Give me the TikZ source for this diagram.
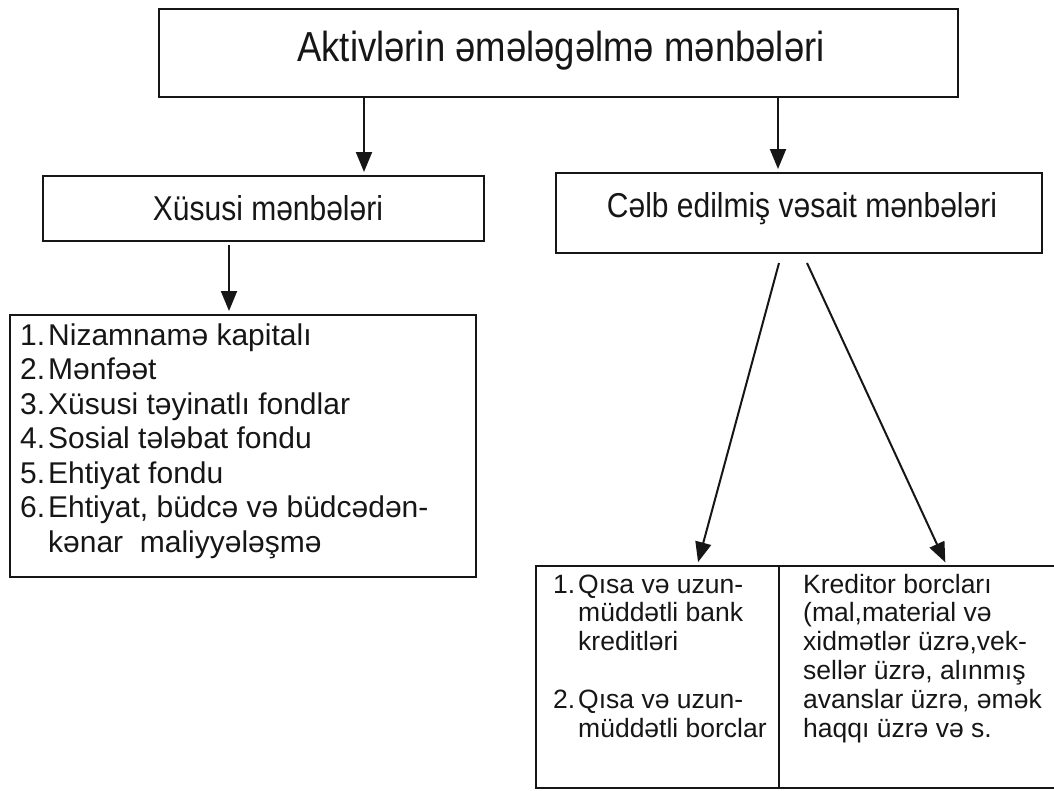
\documentclass[tikz,border=0pt]{standalone}
\usepackage{fontspec}
\setmainfont{Liberation Sans}
\usetikzlibrary{arrows.meta,calc}
\definecolor{ink}{HTML}{161616}
\newcommand{\nb}[2]{\makebox[#1][l]{#2}}
\newcommand{\tall}[1]{\scalebox{1}[1.15]{#1}}
\begin{document}
\begin{tikzpicture}[x=1pt,y=-1pt,
  box/.style={draw=ink,line width=2.4pt,inner sep=0pt,outer sep=0pt},
  arr/.style={draw=ink,line width=2pt,shorten >=4pt,-{Triangle[length=20pt,width=16pt]}},
  txt/.style={inner sep=0pt,anchor=base west,text=ink},
  head/.style={inner sep=0pt,anchor=base,text=ink,font=\fontsize{30}{34}\selectfont}]
\useasboundingbox (0,0) rectangle (1054,790);
\clip (0,0) rectangle (1054,790);
% boxes
\node[box,minimum width=799pt,minimum height=88pt] (top) at (558.5,53) {};
\node[box,minimum width=441pt,minimum height=65pt] (xus) at (263.5,208.5) {};
\node[box,minimum width=486pt,minimum height=80pt] (celb) at (799,213) {};
\node[box,minimum width=466pt,minimum height=262pt] (list) at (243,446) {};
\node[box,minimum width=243pt,minimum height=222pt] (bl) at (657.5,677) {};
\node[box,minimum width=285pt,minimum height=222pt] (br) at (921.5,677) {};
% titles
\node[inner sep=0pt,anchor=base,text=ink,font=\fontsize{36.5}{40}\selectfont] (toptxt) at (561,61) {\tall{Aktivlərin əmələgəlmə mənbələri}};
\node[head] (xustxt) at (268,220) {\tall{Xüsusi mənbələri}};
\node[head] (celbtxt) at (802,217) {\tall{Cəlb edilmiş vəsait mənbələri}};
% list
\node[txt,font=\fontsize{30}{34.5}\selectfont] (listtxt) at (20,345) {\vtop{%
  \hbox{\nb{28pt}{1.}Nizamnamə kapitalı}
  \hbox{\nb{28pt}{2.}Mənfəət}
  \hbox{\nb{28pt}{3.}Xüsusi təyinatlı fondlar}
  \hbox{\nb{28pt}{4.}Sosial tələbat fondu}
  \hbox{\nb{28pt}{5.}Ehtiyat fondu}
  \hbox{\nb{28pt}{6.}Ehtiyat, büdcə və büdcədən-}
  \hbox{\nb{28pt}{}kənar\ \ maliyyələşmə}}};
% bottom left
\node[txt,font=\fontsize{26.5}{28.8}\selectfont] (bltxt) at (553,593) {\vtop{%
  \hbox{\nb{25pt}{1.}Qısa və uzun-}
  \hbox{\nb{25pt}{}müddətli bank}
  \hbox{\nb{25pt}{}kreditləri}
  \hbox{}
  \hbox{\nb{25pt}{2.}Qısa və uzun-}
  \hbox{\nb{25pt}{}müddətli borclar}}};
% bottom right
\node[txt,font=\fontsize{26.5}{28.8}\selectfont] (brtxt) at (803,593) {\vtop{%
  \hbox{Kreditor borcları}
  \hbox{(mal,material və}
  \hbox{xidmətlər üzrə,vek-}
  \hbox{sellər üzrə, alınmış}
  \hbox{avanslar üzrə, əmək}
  \hbox{haqqı üzrə və s.}}};
% arrows
\coordinate (xa) at (364,0);
\coordinate (xb) at (778,0);
\coordinate (xc) at (229,0);
\draw[arr] (top.south -| xa) -- (xus.north -| xa);
\draw[arr] (top.south -| xb) -- (celb.north -| xb);
\draw[arr] ($(xus.south -| xc)+(0,4)$) -- (list.north -| xc);
\draw[arr] ($(celb.south)+(-20,10)$) -- ($(bl.north)+(39.5,0)$);
\draw[arr] ($(celb.south)+(8,10)$) -- ($(br.north)+(25.5,0)$);
\end{tikzpicture}
\end{document}
